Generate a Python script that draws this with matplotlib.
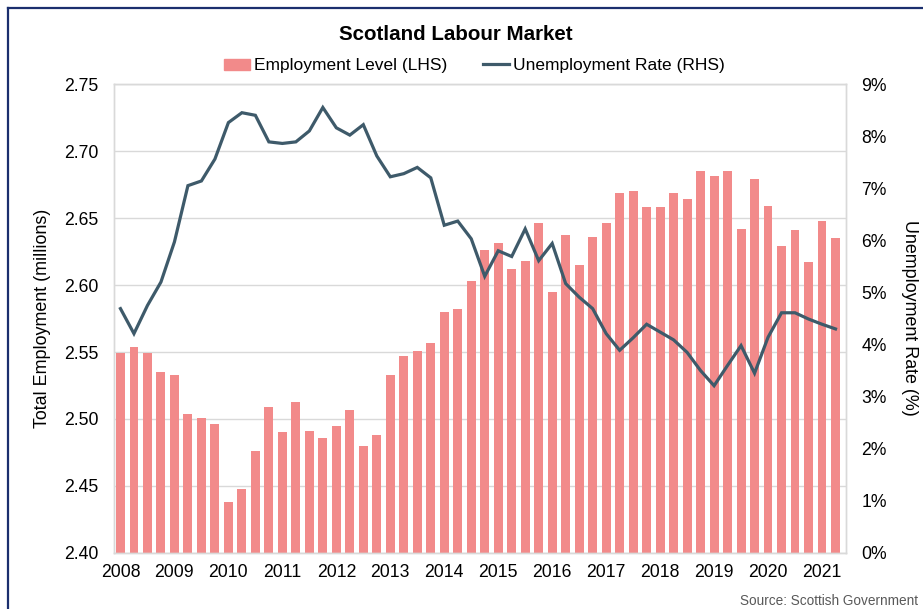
import numpy as np
import matplotlib.pyplot as plt
from matplotlib.lines import Line2D
from matplotlib.ticker import FuncFormatter

plt.rcParams['font.family'] = ['Liberation Sans', 'DejaVu Sans']

# quarterly series, 2008 Q1 to 2021 Q2
years = list(range(2008, 2022))
employment = [
    2.549, 2.554, 2.549, 2.535, 2.533, 2.504, 2.501, 2.496,
    2.438, 2.448, 2.476, 2.509, 2.490, 2.513, 2.491, 2.486,
    2.495, 2.507, 2.480, 2.488, 2.533, 2.547, 2.551, 2.557,
    2.580, 2.582, 2.603, 2.626, 2.631, 2.612, 2.618, 2.646,
    2.595, 2.637, 2.615, 2.636, 2.646, 2.669, 2.670, 2.658,
    2.658, 2.669, 2.664, 2.685, 2.681, 2.685, 2.642, 2.679,
    2.659, 2.629, 2.641, 2.617, 2.648, 2.635,
]
unemployment = [
    4.69, 4.21, 4.75, 5.20, 5.97, 7.05, 7.14, 7.56,
    8.26, 8.45, 8.40, 7.89, 7.86, 7.89, 8.10, 8.55,
    8.16, 8.02, 8.22, 7.62, 7.22, 7.28, 7.40, 7.20,
    6.29, 6.37, 6.03, 5.31, 5.80, 5.69, 6.22, 5.61,
    5.94, 5.17, 4.91, 4.69, 4.21, 3.89, 4.13, 4.39,
    4.24, 4.09, 3.85, 3.50, 3.21, 3.60, 3.98, 3.45,
    4.14, 4.61, 4.61, 4.49, 4.39, 4.30,
]

bar_color = '#f28a8a'
line_color = '#3e5a6a'
grid_color = '#d9d9d9'

x = np.arange(len(employment))

fig = plt.figure(figsize=(9.23, 6.09), dpi=100)
ax = fig.add_axes([0.1235, 0.092, 0.7931, 0.770])
ax2 = ax.twinx()

ax.bar(x, employment, width=0.66, color=bar_color, zorder=2)
ax.set_ylim(2.40, 2.75)
ax.set_yticks(np.arange(2.40, 2.751, 0.05))
ax.yaxis.set_major_formatter(FuncFormatter(lambda v, p: f'{v:.2f}'))
ax.grid(axis='y', color=grid_color, lw=1, zorder=0)
ax.set_axisbelow(True)
ax.set_xlim(-0.48, len(x) - 0.22)
ax.set_xticks(x[::4])
ax.set_xticklabels([str(y) for y in years])

ax2.plot(x, unemployment, color=line_color, lw=2.3, solid_joinstyle='miter')
ax2.set_ylim(0, 9)
ax2.set_yticks(range(0, 10))
ax2.yaxis.set_major_formatter(FuncFormatter(lambda v, p: f'{v:.0f}%'))

for a in (ax, ax2):
    for s in a.spines.values():
        s.set_color(grid_color)
        s.set_linewidth(1)
    a.tick_params(length=0, labelsize=12.7, colors='black')
ax.tick_params(axis='y', pad=11)
ax.tick_params(axis='x', pad=8)
ax2.tick_params(axis='y', pad=11)

fig.text(0.046, 0.478, 'Total Employment (millions)', rotation=90,
         ha='center', va='center', fontsize=12.9)
fig.text(0.985, 0.478, 'Unemployment Rate (%)', rotation=-90,
         ha='center', va='center', fontsize=12.9)

fig.text(0.494, 0.944, 'Scotland Labour Market', ha='center', va='center',
         fontsize=14.8, fontweight='bold')

handles = [
    plt.Rectangle((0, 0), 1, 1, color=bar_color),
    Line2D([0], [0], color=line_color, lw=2.3),
]
fig.legend(handles, ['Employment Level (LHS)', 'Unemployment Rate (RHS)'],
           loc='center', bbox_to_anchor=(0.514, 0.892), ncol=2, frameon=False,
           fontsize=12.5, handlelength=1.5, handleheight=0.6,
           handletextpad=0.2, columnspacing=2.1)

fig.text(0.9946, 0.013, 'Source: Scottish Government', ha='right', va='center',
         fontsize=9.8, color='#595959')

# dark frame along the top and left edges
fig.add_artist(Line2D([0.0092, 0.0092], [0, 0.9865], transform=fig.transFigure,
                      color='#1b2f6e', lw=1.6))
fig.add_artist(Line2D([0.0092, 1], [0.9865, 0.9865], transform=fig.transFigure,
                      color='#1b2f6e', lw=1.6))

fig.savefig('out.png', dpi=100)
